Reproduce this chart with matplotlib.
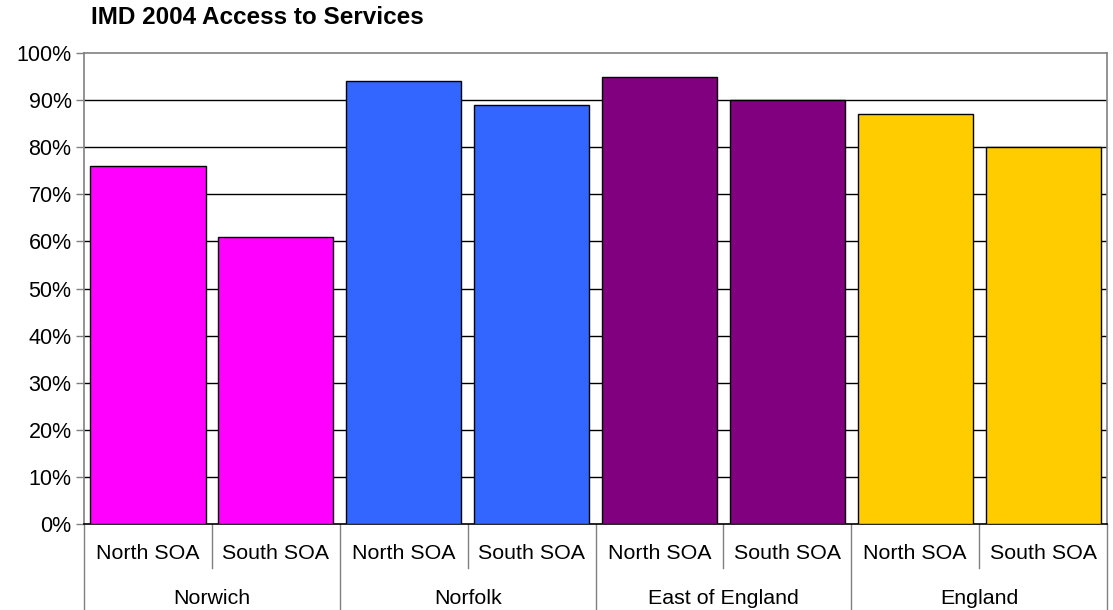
import matplotlib.pyplot as plt
import matplotlib.transforms as mtransforms
from matplotlib.ticker import FuncFormatter

plt.rcParams['font.family'] = ['Liberation Sans', 'DejaVu Sans']

groups = ['Norwich', 'Norfolk', 'East of England', 'England']
areas = ['North SOA', 'South SOA']
values = [76, 61, 94, 89, 95, 90, 87, 80]
colors = ['#FF00FF', '#3366FF', '#800080', '#FFCC00']

fig = plt.figure(figsize=(11.13, 6.1), dpi=100)
ax = fig.add_axes([0.0755, 0.141, 0.9191, 0.772])

x = list(range(len(values)))
bar_colors = [colors[i // 2] for i in x]
ax.bar(x, values, width=0.9, color=bar_colors, edgecolor='black', linewidth=1, zorder=3)

ax.set_xlim(-0.5, len(values) - 0.5)
ax.set_ylim(0, 100)
ax.set_yticks(range(0, 101, 10))
ax.yaxis.set_major_formatter(FuncFormatter(lambda v, p: f'{v:.0f}%'))
ax.tick_params(axis='y', direction='out', length=6, width=1, color='#808080',
               labelsize=15.5, pad=3)
ax.set_xticks([])

for v in range(10, 100, 10):
    ax.axhline(v, color='black', linewidth=1, zorder=1)

for side in ['top', 'right']:
    ax.spines[side].set_color('#808080')
ax.spines['left'].set_color('#808080')
ax.spines['bottom'].set_color('black')
for s in ax.spines.values():
    s.set_linewidth(1.2)

# two-level category axis
trans = mtransforms.blended_transform_factory(ax.transData, ax.transAxes)
for i in range(len(groups)):
    ax.plot([2 * i + 0.5, 2 * i + 0.5], [0, -0.093], transform=trans,
            color='#808080', linewidth=1, clip_on=False)
for i in range(len(groups) + 1):
    ax.plot([2 * i - 0.5, 2 * i - 0.5], [0, -0.2], transform=trans,
            color='#808080', linewidth=1, clip_on=False)
for i in x:
    ax.text(i, -0.062, areas[i % 2], transform=trans, ha='center', va='center',
            fontsize=15.4)
for i, g in enumerate(groups):
    ax.text(2 * i + 0.5, -0.158, g, transform=trans, ha='center', va='center',
            fontsize=15.4)

fig.text(91 / 1113, 1 - 18 / 610, 'IMD 2004 Access to Services', fontsize=17.5,
         fontweight='bold', ha='left', va='center')

fig.savefig('out.png', dpi=100)
